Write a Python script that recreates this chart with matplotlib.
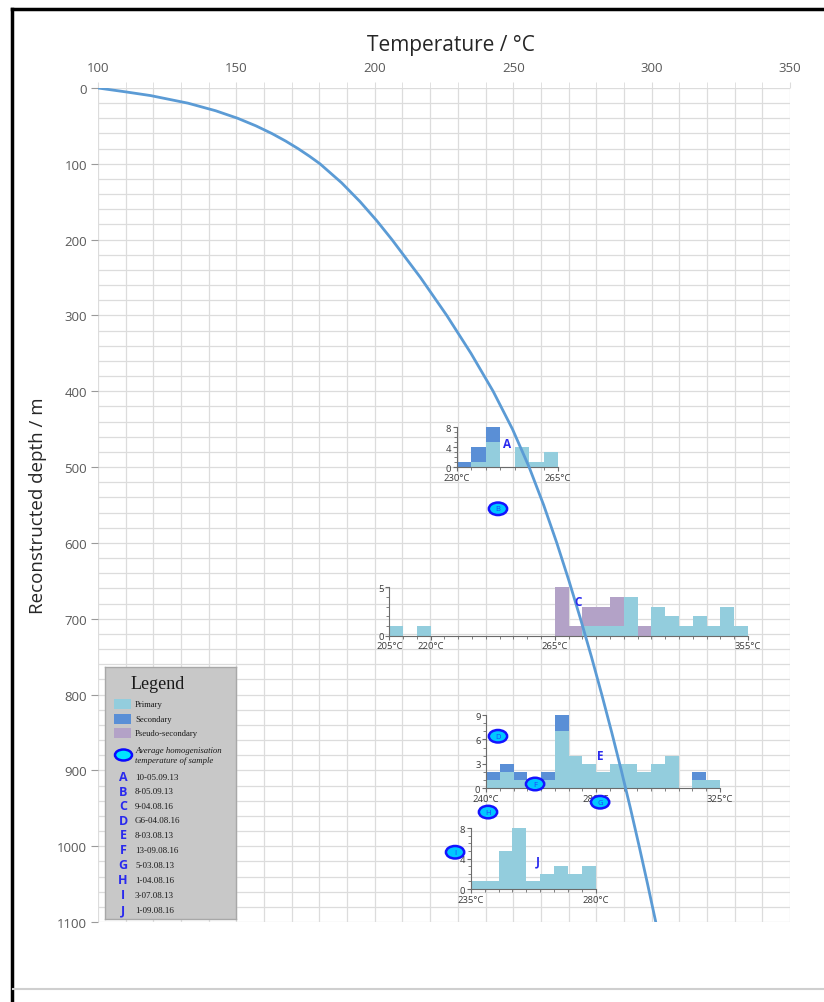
import numpy as np
import matplotlib
matplotlib.use("Agg")
import matplotlib.pyplot as plt
from matplotlib.patches import Ellipse, Rectangle
from matplotlib.lines import Line2D
from matplotlib.ticker import MultipleLocator

# ---------------- data ----------------
# boiling-point-with-depth style curve
curve_depth = [0, 5, 10, 20, 30, 40, 50, 60, 70, 80, 90, 100, 125, 150, 175, 200, 250, 300, 350,
               400, 450, 500, 550, 600, 650, 700, 750, 800, 850, 900, 950, 1000, 1050, 1100]
curve_temp = [100, 109.8, 119, 132.5, 142.5, 150.5, 157.1, 162.8, 167.8, 172.3, 176.4, 180.2,
              188, 194.7, 200.7, 206.2, 216.5, 226, 234.75, 242.75, 249.75, 255.75, 261,
              265.75, 270.15, 274.3, 278.25, 282, 285.6, 289.05, 292.35, 295.5, 298.55, 301.5]

# average homogenisation temperature markers (temp, depth)
marker_labels = ["B", "D", "F", "G", "H", "I"]
marker_temp = [244.5, 244.5, 257.9, 281.4, 240.9, 229.0]
marker_depth = [555, 855, 918, 942, 955, 1008]

# histogram A (5 degC bins)
A_left = [230, 235, 240, 245, 250, 255, 260]
A_primary = [0, 1, 5, 0, 4, 1, 3]
A_secondary = [1, 3, 3, 0, 0, 0, 0]

# histogram C
C_left = [205, 210, 215, 220, 225, 230, 235, 240, 245, 250, 255, 260,
          265, 270, 275, 280, 285, 290, 295, 300, 305, 310, 315, 320, 325, 330]
C_primary = [1, 0, 1, 0, 0, 0, 0, 0, 0, 0, 0, 0,
             0, 0, 1, 1, 1, 4, 0, 3, 2, 1, 2, 1, 3, 1]
C_pseudo = [0, 0, 0, 0, 0, 0, 0, 0, 0, 0, 0, 0,
            5, 1, 2, 2, 3, 0, 1, 0, 0, 0, 0, 0, 0, 0]

# histogram E
E_left = [240, 245, 250, 255, 260, 265, 270, 275, 280, 285, 290, 295, 300, 305, 310, 315, 320]
E_primary = [1, 2, 1, 1, 1, 7, 4, 3, 2, 3, 3, 2, 3, 4, 0, 1, 1]
E_secondary = [1, 1, 1, 0, 1, 2, 0, 0, 0, 0, 0, 0, 0, 0, 0, 1, 0]

# histogram J
J_left = [235, 240, 245, 250, 255, 260, 265, 270, 275]
J_primary = [1, 1, 5, 8, 1, 2, 3, 2, 3]

legend_letters = ["A", "B", "C", "D", "E", "F", "G", "H", "I", "J"]
legend_samples = ["10-05.09.13", "8-05.09.13", "9-04.08.16", "G6-04.08.16", "8-03.08.13",
                  "13-09.08.16", "5-03.08.13", "1-04.08.16", "3-07.08.13", "1-09.08.16"]

# ---------------- style ----------------
C_PRIM = "#93cddd"
C_SEC = "#5a8fd6"
C_PSEU = "#b3a2c7"
C_LINE = "#5b9bd5"
C_LET = "#2a2aee"
GRID = "#dcdcdc"

plt.rcParams["font.family"] = ["Open Sans", "DejaVu Sans"]

W, H = 824, 1003
fig = plt.figure(figsize=(W / 100, H / 100), dpi=100)
fig.patch.set_facecolor("white")


def px_axes(l, t, r, b, **kw):
    return fig.add_axes([l / W, 1 - b / H, (r - l) / W, (b - t) / H], **kw)


# ---------------- main axes (grid) ----------------
L, T, R, B = 98, 89, 790, 923
ax = px_axes(L, T, R, B)
ax.set_zorder(0)
ax.set_xlim(100, 350)
ax.set_ylim(1100, 0)
ax.xaxis.set_major_locator(MultipleLocator(50))
ax.xaxis.set_minor_locator(MultipleLocator(10))
ax.yaxis.set_major_locator(MultipleLocator(100))
ax.yaxis.set_minor_locator(MultipleLocator(20))
ax.grid(which="both", color=GRID, lw=0.9)
for s in ax.spines.values():
    s.set_visible(False)
ax.xaxis.tick_top()
ax.tick_params(axis="x", which="major", top=True, bottom=False, length=4, color=GRID,
               labelsize=9.5, labelcolor="#595959", pad=6)
ax.tick_params(axis="x", which="minor", top=True, bottom=False, length=4, color=GRID)
ax.tick_params(axis="y", which="major", length=5, color="#9a9a9a", labelsize=9.5,
               labelcolor="#595959", pad=3)
ax.tick_params(axis="y", which="minor", length=0)
ax.set_xlabel("Temperature / °C", fontsize=15, color="#262626")
ax.xaxis.set_label_position("top")
ax.xaxis.set_label_coords(0.51, 1.046)
ax.set_ylabel("Reconstructed depth / m", fontsize=13.5, color="#262626")
ax.yaxis.set_label_coords(-0.073, 0.5)


# ---------------- insets ----------------
def style_inset(a, xlim, ylim, xticks, xlabels, yticks, yminor=1):
    a.set_xlim(*xlim)
    a.set_ylim(*ylim)
    a.patch.set_alpha(0)
    a.spines["top"].set_visible(False)
    a.spines["right"].set_visible(False)
    for s in ("left", "bottom"):
        a.spines[s].set_color("#6b6b6b")
        a.spines[s].set_linewidth(0.8)
    a.set_xticks(xticks)
    a.set_xticklabels(xlabels)
    a.xaxis.set_minor_locator(MultipleLocator(5))
    a.set_yticks(yticks)
    a.yaxis.set_minor_locator(MultipleLocator(yminor))
    a.tick_params(which="major", length=3, width=0.8, color="#6b6b6b", labelsize=6.8,
                  labelcolor="#3a3a3a", pad=1)
    a.tick_params(which="minor", length=2, width=0.6, color="#6b6b6b")


def bar_stack(a, left, layers):
    bottom = np.zeros(len(left))
    for vals, col in layers:
        v = np.array(vals, dtype=float)
        a.bar(left, v, width=5, bottom=bottom, align="edge", color=col, linewidth=0)
        bottom = bottom + v


# A
axA = px_axes(456.7, 428.3, 558, 468.3)
axA.set_zorder(1)
bar_stack(axA, A_left, [(A_primary, C_PRIM), (A_secondary, C_SEC)])
style_inset(axA, (230, 265), (0, 8), [230, 265], ["230°C", "265°C"], [0, 4, 8])

# C
axC = px_axes(389.3, 588.3, 748, 636.7)
axC.set_zorder(1)
bar_stack(axC, C_left, [(C_primary, C_PRIM), (C_pseudo, C_PSEU)])
style_inset(axC, (205, 335), (0, 5), [205, 220, 265, 335],
            ["205°C", "220°C", "265°C", "355°C"], [0, 5])

# E
axE = px_axes(486, 716, 720, 789.3)
axE.set_zorder(1)
bar_stack(axE, E_left, [(E_primary, C_PRIM), (E_secondary, C_SEC)])
style_inset(axE, (240, 325), (0, 9), [240, 280, 325], ["240°C", "280°C", "325°C"], [0, 3, 6, 9])

# J
axJ = px_axes(470.7, 829.3, 596, 890)
axJ.set_zorder(1)
bar_stack(axJ, J_left, [(J_primary, C_PRIM)])
style_inset(axJ, (235, 280), (0, 8), [235, 280], ["235°C", "280°C"], [0, 4, 8])

# ---------------- overlay: curve, markers, letters ----------------
ov = px_axes(L, T, R, B)
ov.set_zorder(2)
ov.set_xlim(100, 350)
ov.set_ylim(1100, 0)
ov.axis("off")
ov.patch.set_alpha(0)
ov.plot(curve_temp, curve_depth, color=C_LINE, lw=2.0, solid_capstyle="round",
        solid_joinstyle="round")

for lab, t, d in zip(marker_labels, marker_temp, marker_depth):
    e = Ellipse((t, d), width=6.6, height=16.5, facecolor="#00c8ff", edgecolor="#1414ff", lw=1.8)
    ov.add_patch(e)
    ov.text(t, d, lab, ha="center", va="center", fontsize=5.5, color="#2040ff")


def fig_text(px, py, s, **kw):
    fig.text(px / W, 1 - py / H, s, **kw)


for lab, (px, py) in zip(["A", "C", "E", "J"], [(507, 445), (578, 603), (600, 756), (538, 862)]):
    fig_text(px, py, lab, ha="center", va="center", fontsize=8.5, fontweight="bold",
             color=C_LET, zorder=5)

# ---------------- legend box ----------------
lg = px_axes(105, 668, 236, 920)
lg.set_zorder(3)
lg.set_xlim(105, 236)
lg.set_ylim(920, 668)
lg.set_facecolor("#c8c8c8")
for s in lg.spines.values():
    s.set_color("#a8a8a8")
    s.set_linewidth(1.0)
lg.set_xticks([])
lg.set_yticks([])
serif = ["Liberation Serif", "DejaVu Serif"]
lg.text(158, 685, "Legend", ha="center", va="center", fontsize=13, family=serif, color="#1a1a1a")
for (col, name, y) in [(C_PRIM, "Primary", 705), (C_SEC, "Secondary", 720), (C_PSEU, "Pseudo-secondary", 734)]:
    lg.add_patch(Rectangle((114, y - 5), 17, 10, facecolor=col, edgecolor="none"))
    lg.text(135, y, name, ha="left", va="center", fontsize=6.2, family=serif, color="#1a1a1a")
lg.add_patch(Ellipse((123.5, 756), 17, 11, facecolor="#00e5ff", edgecolor="#0a0aff", lw=1.8))
lg.text(135, 751, "Average homogenisation", ha="left", va="center", fontsize=6.3, family=serif,
        style="italic", color="#1a1a1a")
lg.text(135, 761.5, "temperature of sample", ha="left", va="center", fontsize=6.3, family=serif,
        style="italic", color="#1a1a1a")
ys = [778, 792.5, 807, 821.5, 836, 851, 866, 881, 896, 911]
for letter, sample, y in zip(legend_letters, legend_samples, ys):
    lg.text(123, y, letter, ha="center", va="center", fontsize=9, fontweight="bold", color=C_LET)
    lg.text(135, y, sample, ha="left", va="center", fontsize=6.5, family=serif, color="#1a1a1a")

# ---------------- frame lines ----------------
fig.add_artist(Line2D([12 / W, 1], [1 - 10 / H, 1 - 10 / H], color="black", lw=2.5))
fig.add_artist(Line2D([12 / W, 12 / W], [1 - 10 / H, 0], color="black", lw=2.5))
fig.add_artist(Line2D([13 / W, 1], [1 - 990 / H, 1 - 990 / H], color="#cfcfcf", lw=1.5))

fig.savefig("out.png", dpi=100, facecolor="white")
